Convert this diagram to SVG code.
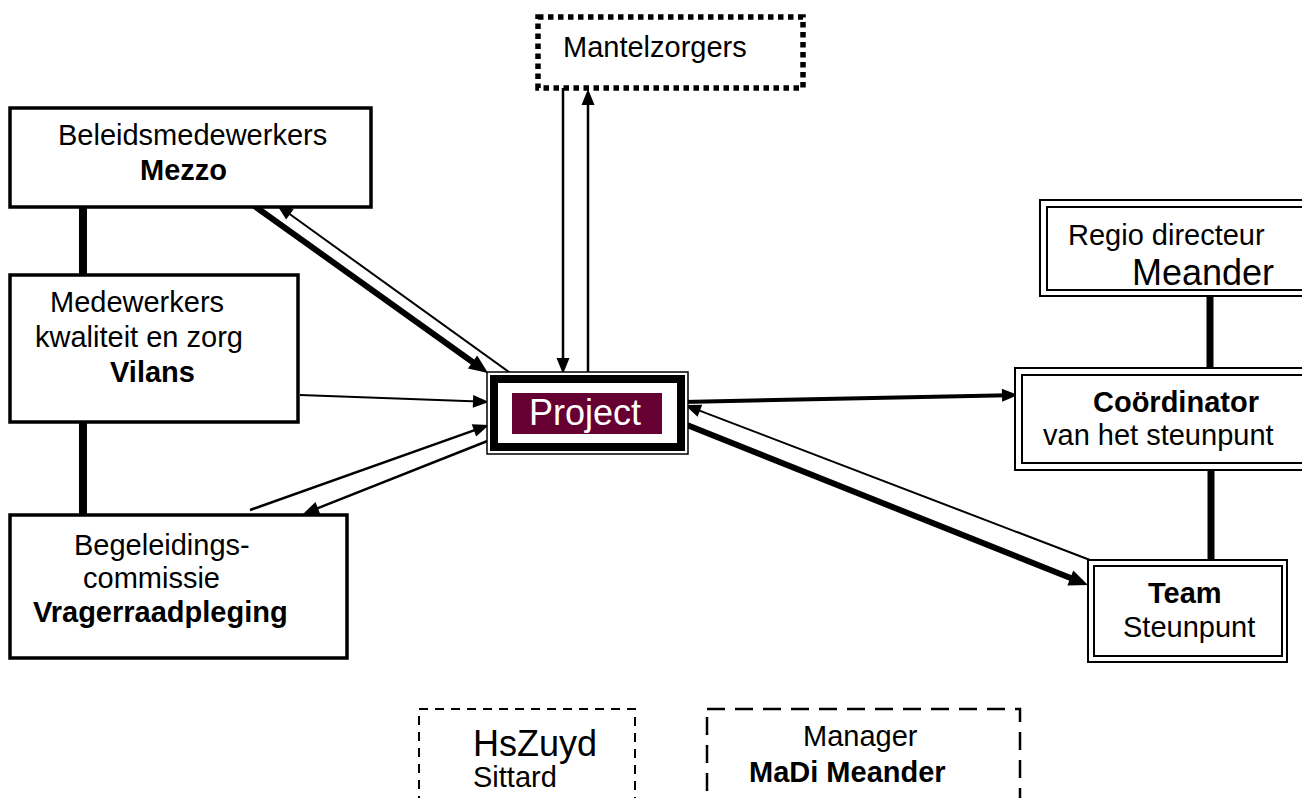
<svg xmlns="http://www.w3.org/2000/svg" width="1302" height="798" viewBox="0 0 1302 798">
<style>
text{font-family:"Liberation Sans",Arial,sans-serif;font-size:29px;fill:#000}
.b{font-weight:bold}
.big{font-size:36px}
.box{fill:#fff;stroke:#000;stroke-width:3.5}
.dbl{fill:none;stroke:#000;stroke-width:2}
.thin{stroke:#000;stroke-width:2;fill:none}
.mid{stroke:#000;stroke-width:4;fill:none}
.thick{stroke:#000;stroke-width:6;fill:none}
.link{stroke:#000;stroke-width:8;fill:none}
</style>
<defs>
<marker id="ah" markerUnits="userSpaceOnUse" markerWidth="20" markerHeight="16" refX="6" refY="6.5" orient="auto" overflow="visible"><path d="M0,0 L16,6.5 L0,13 z" fill="#000"/></marker>
<marker id="ahb" markerUnits="userSpaceOnUse" markerWidth="22" markerHeight="18" refX="9" refY="8" orient="auto" overflow="visible"><path d="M0,0 L19,8 L0,16 z" fill="#000"/></marker>
</defs>
<rect width="1302" height="798" fill="#fff"/>
<g id="connectors">
<line class="link" x1="83" y1="207" x2="83" y2="275"/>
<line class="link" x1="83" y1="422" x2="83" y2="515"/>
<line class="link" x1="1210" y1="296" x2="1210" y2="368" style="stroke-width:7"/>
<line class="link" x1="1211" y1="470" x2="1211" y2="566" style="stroke-width:7"/>
<line class="thick" x1="253" y1="205" x2="479.9" y2="367.2" marker-end="url(#ahb)"/>
<line class="thin" x1="513" y1="375" x2="285.1" y2="210.8" marker-end="url(#ah)"/>
<line class="thin" style="stroke-width:2.5" x1="563" y1="88" x2="563" y2="364" marker-end="url(#ah)"/>
<line class="thin" style="stroke-width:2.5" x1="588" y1="372" x2="588" y2="99" marker-end="url(#ah)"/>
<line class="thin" x1="300" y1="395" x2="479" y2="401.6" marker-end="url(#ah)"/>
<line class="thin" style="stroke-width:2.5" x1="250" y1="510" x2="479.6" y2="428.4" marker-end="url(#ah)"/>
<line class="thin" style="stroke-width:2.5" x1="490" y1="440" x2="312.3" y2="510.3" marker-end="url(#ah)"/>
<line class="mid" x1="683" y1="402" x2="1008" y2="395.2" marker-end="url(#ah)"/>
<line class="thin" x1="1090" y1="560" x2="694.3" y2="408.6" marker-end="url(#ah)"/>
<line class="thick" x1="687" y1="425" x2="1078.7" y2="581.3" marker-end="url(#ahb)"/>
</g>
<g id="mantelzorgers">
<rect x="538" y="17" width="265" height="71" fill="#fff" stroke="#000" stroke-width="5.5" stroke-dasharray="5.5 4.5"/>
<text x="563" y="57">Mantelzorgers</text>
</g>
<g id="mezzo">
<rect class="box" x="10" y="108" width="361" height="99"/>
<text x="58" y="145">Beleidsmedewerkers</text>
<text class="b" x="140" y="180">Mezzo</text>
</g>
<g id="vilans">
<rect class="box" x="10" y="275" width="288" height="147"/>
<text x="50" y="312">Medewerkers</text>
<text x="35" y="347">kwaliteit en zorg</text>
<text class="b" x="110" y="382">Vilans</text>
</g>
<g id="begeleidingscommissie">
<rect class="box" x="10" y="515" width="337" height="143"/>
<text x="74" y="555">Begeleidings-</text>
<text x="83" y="588">commissie</text>
<text class="b" x="33" y="622">Vragerraadpleging</text>
</g>
<g id="project">
<rect x="487" y="372" width="201" height="82" fill="#fff" stroke="#000" stroke-width="1.5"/>
<rect x="494" y="379" width="187" height="68" fill="#fff" stroke="#000" stroke-width="8"/>
<rect x="512" y="393" width="150" height="41" fill="#660033"/>
<text class="big" x="529" y="425" style="fill:#fff">Project</text>
</g>
<g id="regio-directeur">
<rect class="dbl" x="1040" y="200" width="280" height="96" fill="#fff"/>
<rect class="dbl" x="1047" y="207" width="270" height="83"/>
<text x="1068" y="245">Regio directeur</text>
<text class="big" x="1132" y="285">Meander</text>
</g>
<g id="coordinator">
<rect class="dbl" x="1015" y="368" width="300" height="102" style="fill:#fff"/>
<rect class="dbl" x="1022" y="375" width="290" height="88"/>
<text class="b" x="1093" y="412">Coördinator</text>
<text x="1043" y="445">van het steunpunt</text>
</g>
<g id="team">
<rect class="dbl" x="1088" y="560" width="199" height="102" style="fill:#fff"/>
<rect class="dbl" x="1094" y="566" width="188" height="90"/>
<text class="b" x="1148" y="603">Team</text>
<text x="1123" y="637">Steunpunt</text>
</g>
<g id="hszuyd">
<rect x="419" y="709" width="216" height="120" fill="none" stroke="#000" stroke-width="2" stroke-dasharray="9 7"/>
<text class="big" x="473" y="756">HsZuyd</text>
<text x="473" y="787">Sittard</text>
</g>
<g id="madi">
<rect x="707" y="709" width="313" height="120" fill="none" stroke="#000" stroke-width="2.5" stroke-dasharray="18 10"/>
<text x="803" y="746">Manager</text>
<text class="b" x="749" y="782">MaDi Meander</text>
</g>
</svg>
